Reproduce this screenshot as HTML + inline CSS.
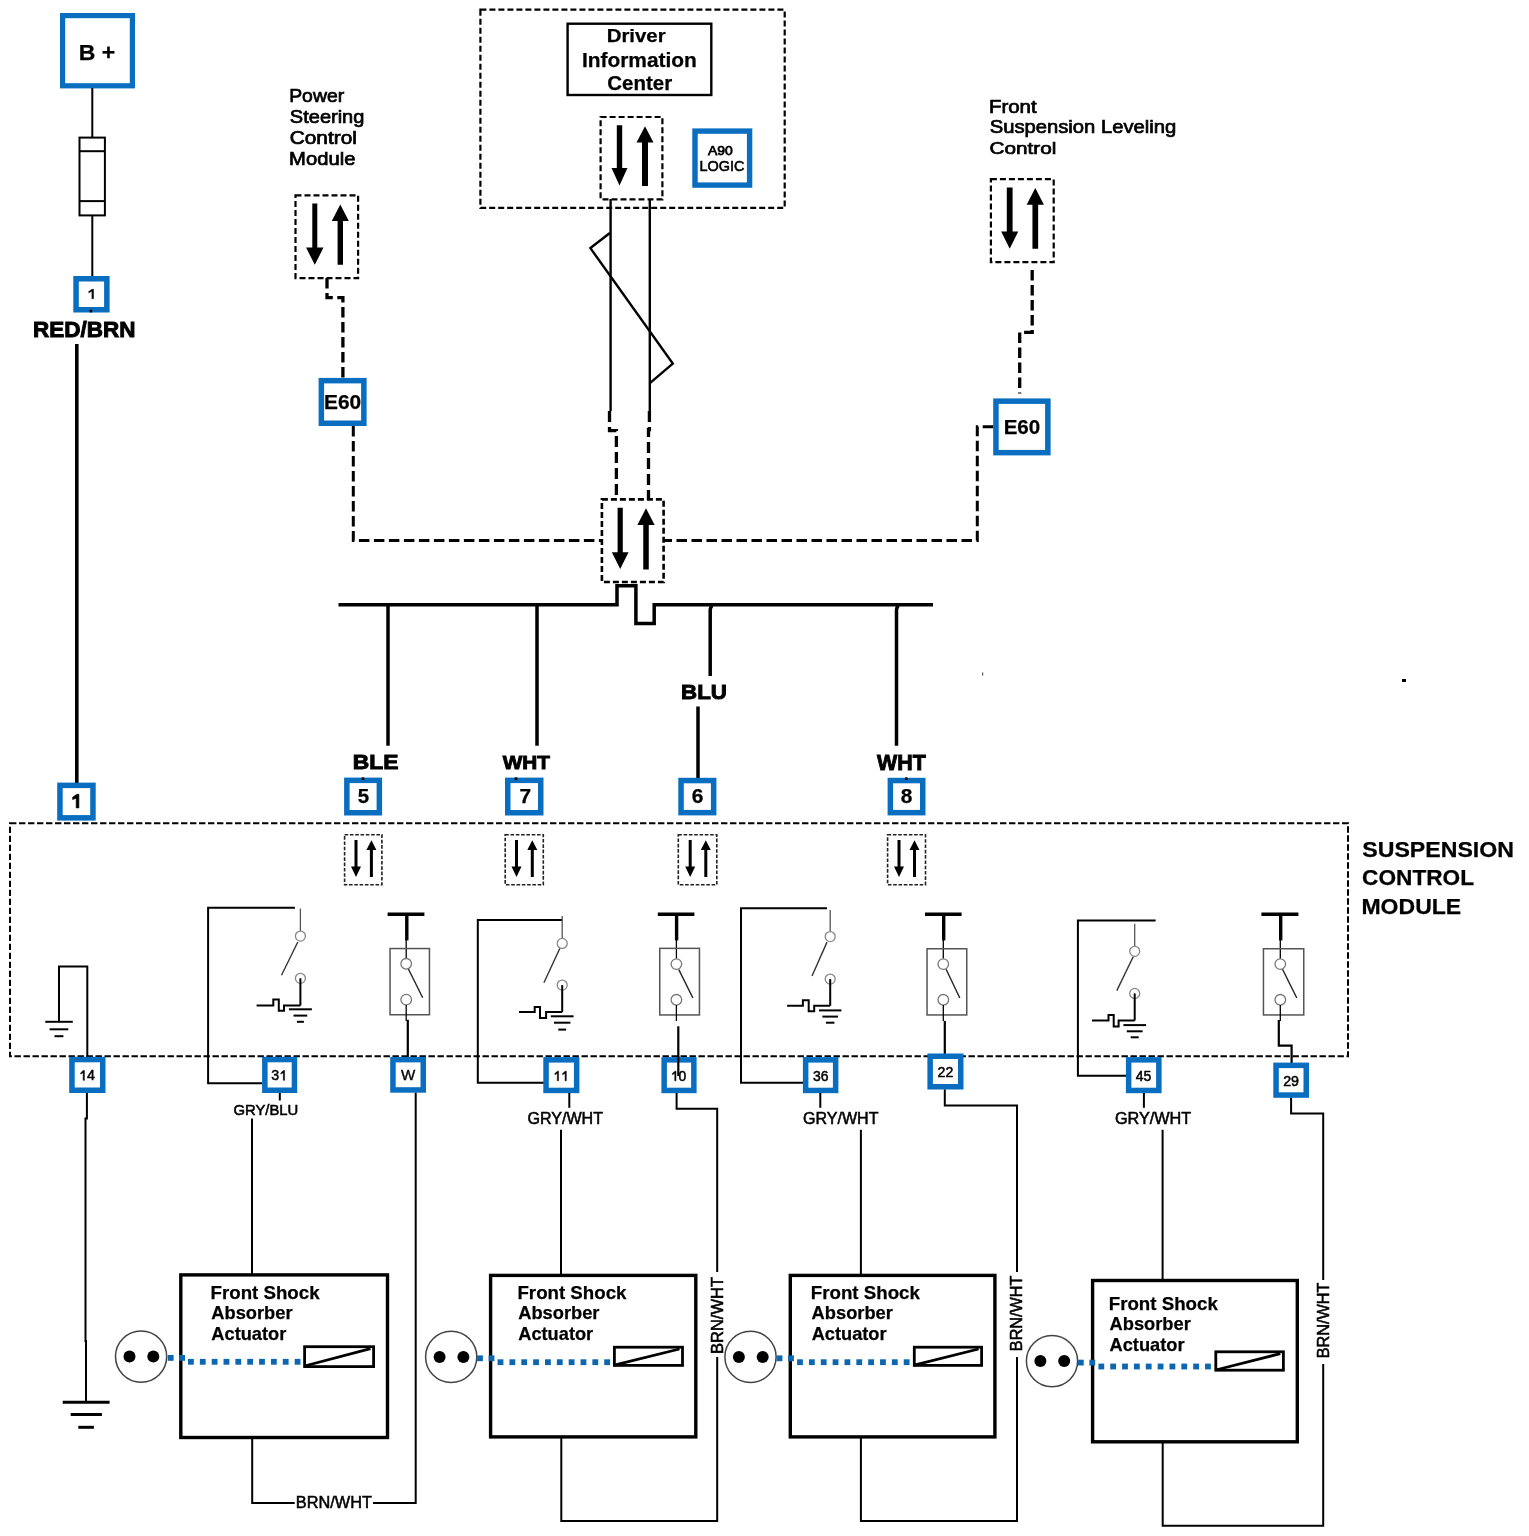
<!DOCTYPE html><html><head><meta charset="utf-8"><title>Suspension Control Module Wiring</title><style>html,body{margin:0;padding:0;background:#fff}svg{display:block;will-change:transform}text{font-family:"Liberation Sans",sans-serif}</style></head><body>
<svg width="1529" height="1536" viewBox="0 0 1529 1536">
<rect width="1529" height="1536" fill="#fff"/>
<rect x="62.6" y="15.6" width="69.8" height="70.2" fill="#fff" stroke="#096ec0" stroke-width="5.2"/>
<text x="78.76" y="59.6" font-size="21.95" font-weight="bold" textLength="36.47" lengthAdjust="spacingAndGlyphs" fill="#000" stroke="#000" stroke-width="0.25">B +</text>
<line x1="92.3" y1="88" x2="92.3" y2="137" stroke="#000" stroke-width="2"/>
<rect x="79.5" y="137.6" width="25.4" height="77.8" fill="none" stroke="#000" stroke-width="2"/>
<line x1="79" y1="151.2" x2="105.5" y2="151.2" stroke="#000" stroke-width="2"/>
<line x1="79" y1="201.1" x2="105.5" y2="201.1" stroke="#000" stroke-width="2"/>
<line x1="92.3" y1="216" x2="92.3" y2="277" stroke="#000" stroke-width="2"/>
<rect x="76.05" y="278.75" width="30.8" height="31" fill="#fff" stroke="#096ec0" stroke-width="5.5"/>
<path d="M93.5,289.3 L93.5,298.7 L91.9,298.7 L91.9,291.35 L88.7,292.73 L88.7,291.62 L92.05,289.3 Z" fill="#000" stroke="#000" stroke-width="0.45" stroke-linejoin="round"/>
<rect x="89.6" y="309.8" width="2.6" height="2.6" fill="#000"/>
<text x="33.1" y="336.6" font-size="21.22" font-weight="bold" textLength="102.42" lengthAdjust="spacingAndGlyphs" fill="#000" stroke="#000" stroke-width="0.9">RED/BRN</text>
<line x1="76.8" y1="344" x2="76.8" y2="783" stroke="#000" stroke-width="3.6"/>
<rect x="59.95" y="785.35" width="33" height="32.5" fill="#fff" stroke="#096ec0" stroke-width="5.5"/>
<path d="M78.9,794.3 L78.9,807.9 L76.19,807.9 L76.19,798.25 L72.6,799.55 L72.6,797.32 L76.77,794.3 Z" fill="#000" stroke="#000" stroke-width="0.6" stroke-linejoin="round"/>
<text x="289.21" y="102.2" font-size="17.73" font-weight="normal" textLength="54.91" lengthAdjust="spacingAndGlyphs" fill="#000" stroke="#000" stroke-width="0.7">Power</text>
<text x="289.89" y="123" font-size="17.73" font-weight="normal" textLength="74.5" lengthAdjust="spacingAndGlyphs" fill="#000" stroke="#000" stroke-width="0.7">Steering</text>
<text x="289.74" y="143.8" font-size="17.73" font-weight="normal" textLength="67.15" lengthAdjust="spacingAndGlyphs" fill="#000" stroke="#000" stroke-width="0.7">Control</text>
<text x="289.14" y="164.5" font-size="17.73" font-weight="normal" textLength="66.25" lengthAdjust="spacingAndGlyphs" fill="#000" stroke="#000" stroke-width="0.7">Module</text>
<rect x="295.5" y="195.3" width="62.6" height="82.8" fill="none" stroke="#000" stroke-width="2.2" stroke-dasharray="6 3"/>
<path d="M312.3,203.5 H317.3 V247.6 H323.55 L314.8,264.8 L306.05,247.6 H312.3 Z" fill="#000"/>
<path d="M337.6,264.8 H343 V221.1 H348.8 L340.3,204.4 L331.8,221.1 H337.6 Z" fill="#000"/>
<path d="M327,278 V297.7 H342.9 V378" fill="none" stroke="#000" stroke-width="3.3" stroke-dasharray="10.5 4.5"/>
<rect x="321.35" y="380.65" width="42.5" height="42.6" fill="#fff" stroke="#096ec0" stroke-width="5.5"/>
<text x="324" y="408.9" font-size="20.2" font-weight="bold" textLength="37.15" lengthAdjust="spacingAndGlyphs" fill="#000" stroke="#000" stroke-width="0.25">E60</text>
<path d="M353.3,426 V540.4 H601.5" fill="none" stroke="#000" stroke-width="3" stroke-dasharray="10.5 4.5"/>
<rect x="480.4" y="9.7" width="304.3" height="198.2" fill="none" stroke="#000" stroke-width="2.2" stroke-dasharray="6 3"/>
<rect x="567.6" y="23.7" width="143.7" height="71.3" fill="none" stroke="#000" stroke-width="2.4"/>
<text x="606.74" y="42.1" font-size="18.9" font-weight="bold" textLength="58.87" lengthAdjust="spacingAndGlyphs" fill="#000" stroke="#000" stroke-width="0.25">Driver</text>
<text x="581.92" y="66.9" font-size="20.35" font-weight="bold" textLength="114.93" lengthAdjust="spacingAndGlyphs" fill="#000" stroke="#000" stroke-width="0.25">Information</text>
<text x="607.26" y="89.6" font-size="19.77" font-weight="bold" textLength="64.85" lengthAdjust="spacingAndGlyphs" fill="#000" stroke="#000" stroke-width="0.25">Center</text>
<rect x="600.6" y="117" width="61.8" height="82.3" fill="none" stroke="#000" stroke-width="2.2" stroke-dasharray="6 3"/>
<path d="M616.8,125.2 H622.2 V168 H627.5 L619.5,185.6 L611.5,168 H616.8 Z" fill="#000"/>
<path d="M642,186 H648 V142.5 H653.5 L645,126.3 L636.5,142.5 H642 Z" fill="#000"/>
<rect x="695" y="131.1" width="54.6" height="54" fill="#fff" stroke="#096ec0" stroke-width="5.4"/>
<text x="707.97" y="154.8" font-size="13.37" font-weight="normal" textLength="24.77" lengthAdjust="spacingAndGlyphs" fill="#000" stroke="#000" stroke-width="0.75">A90</text>
<text x="699.42" y="171.4" font-size="14.24" font-weight="normal" textLength="44.93" lengthAdjust="spacingAndGlyphs" fill="#000" stroke="#000" stroke-width="0.55">LOGIC</text>
<line x1="610.6" y1="199" x2="610.6" y2="411" stroke="#000" stroke-width="2.4"/>
<line x1="649.8" y1="199" x2="649.8" y2="411" stroke="#000" stroke-width="2.4"/>
<path d="M609.9,233 L590.4,248.1 L672.8,363.6 L650.2,382.8" fill="none" stroke="#000" stroke-width="2.4" stroke-linejoin="miter"/>
<path d="M609.5,411 V430.6 H616.4 V499.4" fill="none" stroke="#000" stroke-width="3.3" stroke-dasharray="11 5"/>
<path d="M649.4,411 V429.7 H648.5 V499.4" fill="none" stroke="#000" stroke-width="3.3" stroke-dasharray="11 5"/>
<rect x="601.9" y="499.4" width="61.7" height="82.6" fill="none" stroke="#000" stroke-width="2.6" stroke-dasharray="6 3"/>
<path d="M617.6,507.7 H622.8 V552.2 H628.55 L620.2,569 L611.85,552.2 H617.6 Z" fill="#000"/>
<path d="M643.25,569.5 H648.75 V525 H654.65 L646,508.3 L637.35,525 H643.25 Z" fill="#000"/>
<text x="988.92" y="112.6" font-size="17.73" font-weight="normal" textLength="47.73" lengthAdjust="spacingAndGlyphs" fill="#000" stroke="#000" stroke-width="0.7">Front</text>
<text x="989.68" y="133.4" font-size="18.31" font-weight="normal" textLength="186.62" lengthAdjust="spacingAndGlyphs" fill="#000" stroke="#000" stroke-width="0.7">Suspension Leveling</text>
<text x="989.55" y="153.8" font-size="17.15" font-weight="normal" textLength="66.84" lengthAdjust="spacingAndGlyphs" fill="#000" stroke="#000" stroke-width="0.7">Control</text>
<rect x="990.9" y="179.2" width="62.8" height="82.9" fill="none" stroke="#000" stroke-width="2.2" stroke-dasharray="6 3"/>
<path d="M1006.8,187.5 H1012.6 V231.5 H1018.2 L1009.7,248.7 L1001.2,231.5 H1006.8 Z" fill="#000"/>
<path d="M1032.45,248.7 H1038.15 V204.8 H1043.95 L1035.3,188 L1026.65,204.8 H1032.45 Z" fill="#000"/>
<path d="M1032.2,270 V332.4 H1019.7 V393.5" fill="none" stroke="#000" stroke-width="3.3" stroke-dasharray="10.5 4.5"/>
<rect x="995.95" y="401.15" width="51.9" height="51.5" fill="#fff" stroke="#096ec0" stroke-width="5.5"/>
<text x="1003.63" y="433.5" font-size="20.78" font-weight="bold" textLength="36.51" lengthAdjust="spacingAndGlyphs" fill="#000" stroke="#000" stroke-width="0.25">E60</text>
<path d="M993.2,426.7 H977.3 V540.5 H663.6" fill="none" stroke="#000" stroke-width="3" stroke-dasharray="10.5 4.5"/>
<path d="M338.5,604.7 H617 V585.7 H635.9 V623.4 H654.2 V604.7 H933" fill="none" stroke="#000" stroke-width="3.5" stroke-linejoin="miter"/>
<line x1="388" y1="604.7" x2="388" y2="745.7" stroke="#000" stroke-width="3.5"/>
<line x1="537" y1="604.7" x2="537" y2="745.7" stroke="#000" stroke-width="3.5"/>
<path d="M710.2,675.9 V610 Q710.5,606.5 712.6,605.5" fill="none" stroke="#000" stroke-width="3.5"/>
<path d="M896.5,745.8 V610 Q896.8,606.5 898.9,605.5" fill="none" stroke="#000" stroke-width="3.5"/>
<line x1="698" y1="706.5" x2="698" y2="778.5" stroke="#000" stroke-width="3.5"/>
<text x="352.77" y="769.2" font-size="19.33" font-weight="bold" textLength="45.62" lengthAdjust="spacingAndGlyphs" fill="#000" stroke="#000" stroke-width="0.9">BLE</text>
<text x="502.68" y="769.2" font-size="19.19" font-weight="bold" textLength="47.24" lengthAdjust="spacingAndGlyphs" fill="#000" stroke="#000" stroke-width="0.9">WHT</text>
<text x="681.11" y="698.8" font-size="20.93" font-weight="bold" textLength="45.85" lengthAdjust="spacingAndGlyphs" fill="#000" stroke="#000" stroke-width="0.9">BLU</text>
<text x="876.98" y="769.6" font-size="21.22" font-weight="bold" textLength="48.75" lengthAdjust="spacingAndGlyphs" fill="#000" stroke="#000" stroke-width="0.9">WHT</text>
<rect x="346.85" y="780.35" width="32.5" height="32.4" fill="#fff" stroke="#096ec0" stroke-width="5.5"/>
<text x="357.67" y="803" font-size="19.91" font-weight="bold" textLength="11.4" lengthAdjust="spacingAndGlyphs" fill="#000" stroke="#000" stroke-width="0.25">5</text>
<rect x="507.75" y="780.35" width="33" height="32.4" fill="#fff" stroke="#096ec0" stroke-width="5.5"/>
<text x="519.6" y="803" font-size="19.91" font-weight="bold" textLength="11.63" lengthAdjust="spacingAndGlyphs" fill="#000" stroke="#000" stroke-width="0.25">7</text>
<rect x="681.05" y="780.55" width="32.6" height="32.1" fill="#fff" stroke="#096ec0" stroke-width="5.5"/>
<text x="691.68" y="803" font-size="19.91" font-weight="bold" textLength="11.63" lengthAdjust="spacingAndGlyphs" fill="#000" stroke="#000" stroke-width="0.25">6</text>
<rect x="890.35" y="780.55" width="32.4" height="32.1" fill="#fff" stroke="#096ec0" stroke-width="5.5"/>
<text x="900.68" y="803" font-size="19.91" font-weight="bold" textLength="11.63" lengthAdjust="spacingAndGlyphs" fill="#000" stroke="#000" stroke-width="0.25">8</text>
<rect x="361.7" y="777.4" width="2.6" height="2.6" fill="#000"/>
<rect x="514.7" y="777.4" width="2.6" height="2.6" fill="#000"/>
<rect x="905" y="777.4" width="2.6" height="2.6" fill="#000"/>
<rect x="982" y="672.5" width="1.2" height="3" fill="#555"/>
<rect x="1402" y="679" width="4" height="3" fill="#000"/>
<rect x="10" y="823.3" width="1338" height="232.9" fill="none" stroke="#000" stroke-width="2" stroke-dasharray="6.4 2.6"/>
<text x="1362.33" y="856.6" font-size="21.22" font-weight="bold" textLength="151.62" lengthAdjust="spacingAndGlyphs" fill="#000" stroke="#000" stroke-width="0.25">SUSPENSION</text>
<text x="1362.07" y="885" font-size="21.37" font-weight="bold" textLength="111.98" lengthAdjust="spacingAndGlyphs" fill="#000" stroke="#000" stroke-width="0.25">CONTROL</text>
<text x="1361.46" y="913.8" font-size="22.09" font-weight="bold" textLength="99.71" lengthAdjust="spacingAndGlyphs" fill="#000" stroke="#000" stroke-width="0.25">MODULE</text>
<rect x="344.6" y="834.7" width="37.3" height="50" fill="none" stroke="#222" stroke-width="1.6" stroke-dasharray="3.6 1.7"/>
<path d="M354.5,840 H357.5 V866.6 H361 L356,876.9 L351,866.6 H354.5 Z" fill="#000"/>
<path d="M369.9,876.9 H372.9 V850 H376.4 L371.4,840.3 L366.4,850 H369.9 Z" fill="#000"/>
<rect x="505.2" y="834.7" width="38.1" height="50" fill="none" stroke="#222" stroke-width="1.6" stroke-dasharray="3.6 1.7"/>
<path d="M515,840 H518 V866.6 H521.5 L516.5,876.9 L511.5,866.6 H515 Z" fill="#000"/>
<path d="M530.8,876.9 H533.8 V850 H537.3 L532.3,840.3 L527.3,850 H530.8 Z" fill="#000"/>
<rect x="678.3" y="834.7" width="38.5" height="50" fill="none" stroke="#222" stroke-width="1.6" stroke-dasharray="3.6 1.7"/>
<path d="M688.7,840 H691.7 V866.6 H695.2 L690.2,876.9 L685.2,866.6 H688.7 Z" fill="#000"/>
<path d="M704.3,876.9 H707.3 V850 H710.8 L705.8,840.3 L700.8,850 H704.3 Z" fill="#000"/>
<rect x="887.6" y="834.7" width="37.9" height="50" fill="none" stroke="#222" stroke-width="1.6" stroke-dasharray="3.6 1.7"/>
<path d="M897.5,840 H900.5 V866.6 H904 L899,876.9 L894,866.6 H897.5 Z" fill="#000"/>
<path d="M913,876.9 H916 V850 H919.5 L914.5,840.3 L909.5,850 H913 Z" fill="#000"/>
<path d="M59,1021.5 V966.5 H87.3 V1058" fill="none" stroke="#000" stroke-width="2"/>
<line x1="45.3" y1="1021.8" x2="72.8" y2="1021.8" stroke="#000" stroke-width="2"/>
<line x1="49.6" y1="1029.3" x2="68.3" y2="1029.3" stroke="#000" stroke-width="2"/>
<line x1="54.5" y1="1036.2" x2="63.4" y2="1036.2" stroke="#000" stroke-width="2"/>
<path d="M294.9,907.7 H208.1 V1083.2 H262.5" fill="none" stroke="#000" stroke-width="2"/>
<line x1="300.4" y1="908.6" x2="300.4" y2="931.1" stroke="#555" stroke-width="1.3"/>
<circle cx="300.4" cy="936.1" r="5" fill="#fff" stroke="#888" stroke-width="1.3"/>
<circle cx="300.4" cy="978.3" r="5" fill="#fff" stroke="#888" stroke-width="1.3"/>
<line x1="297.8" y1="942" x2="281.5" y2="975.3" stroke="#333" stroke-width="1.4"/>
<line x1="300.4" y1="978.3" x2="300.4" y2="1005.4" stroke="#000" stroke-width="2"/>
<path d="M256.6,1005.4 H273.3 V999.5 H278.8 V1010.7 H284 V1005.4 H300.4" fill="none" stroke="#000" stroke-width="2"/>
<line x1="288.9" y1="1009.3" x2="311.9" y2="1009.3" stroke="#000" stroke-width="2"/>
<line x1="293.5" y1="1015.6" x2="307.3" y2="1015.6" stroke="#000" stroke-width="2"/>
<line x1="296.9" y1="1021.8" x2="303.9" y2="1021.8" stroke="#000" stroke-width="2"/>
<path d="M562.2,920.1 H477.8 V1082.7 H545.2" fill="none" stroke="#000" stroke-width="2"/>
<line x1="562.2" y1="916" x2="562.2" y2="938.4" stroke="#555" stroke-width="1.3"/>
<circle cx="562.2" cy="943.4" r="5" fill="#fff" stroke="#888" stroke-width="1.3"/>
<circle cx="562.2" cy="985.1" r="5" fill="#fff" stroke="#888" stroke-width="1.3"/>
<line x1="559.8" y1="948.5" x2="543.9" y2="982.8" stroke="#333" stroke-width="1.4"/>
<line x1="562.2" y1="985.1" x2="562.2" y2="1012.1" stroke="#000" stroke-width="2"/>
<path d="M519,1012.1 H534.7 V1007.1 H540 V1018.1 H546.1 V1012.1 H562.2" fill="none" stroke="#000" stroke-width="2"/>
<line x1="550.8" y1="1016.3" x2="573.6" y2="1016.3" stroke="#000" stroke-width="2"/>
<line x1="554" y1="1022.7" x2="570.4" y2="1022.7" stroke="#000" stroke-width="2"/>
<line x1="558.3" y1="1029.6" x2="566.1" y2="1029.6" stroke="#000" stroke-width="2"/>
<path d="M827,908.2 H741 V1082.7 H803.2" fill="none" stroke="#000" stroke-width="2"/>
<line x1="830.2" y1="910" x2="830.2" y2="931.6" stroke="#555" stroke-width="1.3"/>
<circle cx="830.2" cy="936.6" r="5" fill="#fff" stroke="#888" stroke-width="1.3"/>
<circle cx="830.2" cy="979.1" r="5" fill="#fff" stroke="#888" stroke-width="1.3"/>
<line x1="827" y1="942.1" x2="812" y2="976" stroke="#333" stroke-width="1.4"/>
<line x1="830.2" y1="979.1" x2="830.2" y2="1005.8" stroke="#000" stroke-width="2"/>
<path d="M787.1,1005.8 H802.9 V1000.3 H808.7 V1011.3 H814.2 V1005.8 H830.2" fill="none" stroke="#000" stroke-width="2"/>
<line x1="819" y1="1010.4" x2="841.4" y2="1010.4" stroke="#000" stroke-width="2"/>
<line x1="822.4" y1="1016.6" x2="838" y2="1016.6" stroke="#000" stroke-width="2"/>
<line x1="826" y1="1022.7" x2="834.4" y2="1022.7" stroke="#000" stroke-width="2"/>
<path d="M1155.6,920.5 H1077.9 V1075.8 H1126.8" fill="none" stroke="#000" stroke-width="2"/>
<line x1="1134.7" y1="923.8" x2="1134.7" y2="946.3" stroke="#555" stroke-width="1.3"/>
<circle cx="1134.7" cy="951.3" r="5" fill="#fff" stroke="#888" stroke-width="1.3"/>
<circle cx="1134.7" cy="993.4" r="5" fill="#fff" stroke="#888" stroke-width="1.3"/>
<line x1="1133.2" y1="956.8" x2="1116.8" y2="990.6" stroke="#333" stroke-width="1.4"/>
<line x1="1134.7" y1="993.4" x2="1134.7" y2="1020.5" stroke="#000" stroke-width="2"/>
<path d="M1092,1020.5 H1108.5 V1015 H1113.7 V1026.4 H1118.6 V1020.5 H1134.7" fill="none" stroke="#000" stroke-width="2"/>
<line x1="1123.4" y1="1025.1" x2="1146" y2="1025.1" stroke="#000" stroke-width="2"/>
<line x1="1126.8" y1="1031.3" x2="1142.6" y2="1031.3" stroke="#000" stroke-width="2"/>
<line x1="1130.7" y1="1037.3" x2="1138.7" y2="1037.3" stroke="#000" stroke-width="2"/>
<line x1="387.6" y1="914.3" x2="424.4" y2="914.3" stroke="#000" stroke-width="3.4"/>
<line x1="406.8" y1="914.3" x2="406.8" y2="940.4" stroke="#000" stroke-width="3.4"/>
<line x1="406.2" y1="940" x2="406.2" y2="958.5" stroke="#000" stroke-width="1.3"/>
<rect x="390.05" y="948.55" width="39.4" height="66.2" fill="none" stroke="#555" stroke-width="1.5"/>
<circle cx="406.2" cy="963.8" r="5.3" fill="#fff" stroke="#777" stroke-width="1.3"/>
<circle cx="406.2" cy="999.6" r="5.3" fill="#fff" stroke="#777" stroke-width="1.3"/>
<line x1="408.4" y1="969" x2="422.7" y2="997.7" stroke="#222" stroke-width="1.4"/>
<line x1="406.2" y1="1004.9" x2="406.2" y2="1021" stroke="#000" stroke-width="1.3"/>
<path d="M407.8,1019.8 V1058" fill="none" stroke="#000" stroke-width="2.2"/>
<line x1="657.8" y1="914.3" x2="694.4" y2="914.3" stroke="#000" stroke-width="3.4"/>
<line x1="676.6" y1="914.3" x2="676.6" y2="940.4" stroke="#000" stroke-width="3.4"/>
<line x1="676.4" y1="940" x2="676.4" y2="958.8" stroke="#000" stroke-width="1.3"/>
<rect x="659.75" y="948.35" width="39.7" height="66.6" fill="none" stroke="#555" stroke-width="1.5"/>
<circle cx="676.4" cy="964.1" r="5.3" fill="#fff" stroke="#777" stroke-width="1.3"/>
<circle cx="676.4" cy="999.8" r="5.3" fill="#fff" stroke="#777" stroke-width="1.3"/>
<line x1="678.8" y1="969.6" x2="692.9" y2="998" stroke="#222" stroke-width="1.4"/>
<line x1="676.4" y1="1005.1" x2="676.4" y2="1021" stroke="#000" stroke-width="1.3"/>
<path d="M678.3,1026.3 V1058" fill="none" stroke="#000" stroke-width="2.2"/>
<line x1="925" y1="914.3" x2="961.6" y2="914.3" stroke="#000" stroke-width="3.4"/>
<line x1="943.7" y1="914.3" x2="943.7" y2="940.4" stroke="#000" stroke-width="3.4"/>
<line x1="943.3" y1="940" x2="943.3" y2="958.8" stroke="#000" stroke-width="1.3"/>
<rect x="927.05" y="948.75" width="39.7" height="66.2" fill="none" stroke="#555" stroke-width="1.5"/>
<circle cx="943.3" cy="964.1" r="5.3" fill="#fff" stroke="#777" stroke-width="1.3"/>
<circle cx="943.3" cy="999.8" r="5.3" fill="#fff" stroke="#777" stroke-width="1.3"/>
<line x1="946.1" y1="969.2" x2="959.8" y2="998" stroke="#222" stroke-width="1.4"/>
<line x1="943.3" y1="1005.1" x2="943.3" y2="1021" stroke="#000" stroke-width="1.3"/>
<path d="M944.8,1020.9 V1054" fill="none" stroke="#000" stroke-width="2.2"/>
<line x1="1261.4" y1="914.3" x2="1298.4" y2="914.3" stroke="#000" stroke-width="3.4"/>
<line x1="1280.7" y1="914.3" x2="1280.7" y2="940.4" stroke="#000" stroke-width="3.4"/>
<line x1="1280.3" y1="940" x2="1280.3" y2="958.8" stroke="#000" stroke-width="1.3"/>
<rect x="1263.45" y="948.75" width="40.3" height="66.2" fill="none" stroke="#555" stroke-width="1.5"/>
<circle cx="1280.3" cy="964.1" r="5.3" fill="#fff" stroke="#777" stroke-width="1.3"/>
<circle cx="1280.3" cy="999.8" r="5.3" fill="#fff" stroke="#777" stroke-width="1.3"/>
<line x1="1282.5" y1="969.2" x2="1296.8" y2="998" stroke="#222" stroke-width="1.4"/>
<line x1="1280.3" y1="1005.1" x2="1280.3" y2="1021" stroke="#000" stroke-width="1.3"/>
<path d="M1278.8,1019.9 V1045.6 H1291.6 V1063" fill="none" stroke="#000" stroke-width="2.2"/>
<rect x="71.95" y="1059.55" width="30.8" height="30.7" fill="#fff" stroke="#096ec0" stroke-width="5.5"/>
<path d="M84.4,1070.5 L84.4,1080.3 L83.15,1080.3 L83.15,1072.63 L80.65,1074.08 L80.65,1072.92 L83.27,1070.5 Z" fill="#000" stroke="#000" stroke-width="0.5" stroke-linejoin="round"/>
<text x="87.02" y="1080.3" font-size="14.24" font-weight="normal" textLength="7.92" lengthAdjust="spacingAndGlyphs" fill="#000" stroke="#000" stroke-width="0.5">4</text>
<rect x="264.85" y="1059.55" width="29.6" height="30.7" fill="#fff" stroke="#096ec0" stroke-width="5.5"/>
<text x="271.35" y="1080.3" font-size="14.24" font-weight="normal" textLength="7.92" lengthAdjust="spacingAndGlyphs" fill="#000" stroke="#000" stroke-width="0.5">3</text>
<path d="M284.58,1070.5 L284.58,1080.3 L283.33,1080.3 L283.33,1072.63 L280.83,1074.08 L280.83,1072.92 L283.45,1070.5 Z" fill="#000" stroke="#000" stroke-width="0.5" stroke-linejoin="round"/>
<rect x="392.95" y="1059.65" width="30.3" height="30.3" fill="#fff" stroke="#096ec0" stroke-width="5.5"/>
<text x="400.96" y="1080.3" font-size="15.12" font-weight="normal" textLength="14.27" lengthAdjust="spacingAndGlyphs" fill="#000" stroke="#000" stroke-width="0.35">W</text>
<rect x="546.05" y="1059.85" width="30.6" height="30.6" fill="#fff" stroke="#096ec0" stroke-width="5.5"/>
<path d="M558.55,1071.2 L558.55,1080.8 L557.32,1080.8 L557.32,1073.29 L554.87,1074.7 L554.87,1073.57 L557.44,1071.2 Z" fill="#000" stroke="#000" stroke-width="0.5" stroke-linejoin="round"/>
<path d="M566.31,1071.2 L566.31,1080.8 L565.08,1080.8 L565.08,1073.29 L562.63,1074.7 L562.63,1073.57 L565.2,1071.2 Z" fill="#000" stroke="#000" stroke-width="0.5" stroke-linejoin="round"/>
<rect x="664.15" y="1059.85" width="29.7" height="30.6" fill="#fff" stroke="#096ec0" stroke-width="5.5"/>
<rect x="805.65" y="1059.85" width="30" height="30.6" fill="#fff" stroke="#096ec0" stroke-width="5.5"/>
<text x="812.88" y="1080.8" font-size="13.95" font-weight="normal" textLength="15.52" lengthAdjust="spacingAndGlyphs" fill="#000" stroke="#000" stroke-width="0.5">36</text>
<rect x="930.15" y="1056.25" width="30.6" height="30.5" fill="#fff" stroke="#096ec0" stroke-width="5.5"/>
<text x="937.61" y="1077.2" font-size="14.1" font-weight="normal" textLength="15.68" lengthAdjust="spacingAndGlyphs" fill="#000" stroke="#000" stroke-width="0.5">22</text>
<rect x="1128.65" y="1059.85" width="30.2" height="30.6" fill="#fff" stroke="#096ec0" stroke-width="5.5"/>
<text x="1135.67" y="1080.8" font-size="13.95" font-weight="normal" textLength="15.52" lengthAdjust="spacingAndGlyphs" fill="#000" stroke="#000" stroke-width="0.5">45</text>
<rect x="1276.05" y="1065.35" width="30.2" height="29.7" fill="#fff" stroke="#096ec0" stroke-width="5.5"/>
<text x="1283.16" y="1085.8" font-size="14.24" font-weight="normal" textLength="15.84" lengthAdjust="spacingAndGlyphs" fill="#000" stroke="#000" stroke-width="0.5">29</text>
<line x1="678.3" y1="1056" x2="678.3" y2="1076" stroke="#000" stroke-width="2.2"/>
<path d="M675.98,1071.2 L675.98,1080.8 L674.75,1080.8 L674.75,1073.29 L672.3,1074.7 L672.3,1073.57 L674.87,1071.2 Z" fill="#000" stroke="#000" stroke-width="0.5" stroke-linejoin="round"/>
<text x="678.54" y="1080.8" font-size="13.95" font-weight="normal" textLength="7.76" lengthAdjust="spacingAndGlyphs" fill="#000" stroke="#000" stroke-width="0.5">0</text>
<path d="M86.9,1093 V1118.6 H85.5 V1341 H86 V1402" fill="none" stroke="#000" stroke-width="2"/>
<line x1="62.7" y1="1402.3" x2="109.6" y2="1402.3" stroke="#000" stroke-width="3"/>
<line x1="70.7" y1="1414.5" x2="101.9" y2="1414.5" stroke="#000" stroke-width="3"/>
<line x1="78.3" y1="1427.3" x2="93.9" y2="1427.3" stroke="#000" stroke-width="3"/>
<line x1="279.8" y1="1093" x2="279.8" y2="1100.5" stroke="#000" stroke-width="2"/>
<text x="233.46" y="1114.6" font-size="14.83" font-weight="normal" textLength="64.88" lengthAdjust="spacingAndGlyphs" fill="#000" stroke="#000" stroke-width="0.55">GRY/BLU</text>
<line x1="252" y1="1118.6" x2="252" y2="1274" stroke="#000" stroke-width="2"/>
<line x1="569.3" y1="1093" x2="569.3" y2="1107.8" stroke="#000" stroke-width="2"/>
<text x="527.39" y="1123.9" font-size="16.72" font-weight="normal" textLength="75.67" lengthAdjust="spacingAndGlyphs" fill="#000" stroke="#000" stroke-width="0.55">GRY/WHT</text>
<line x1="561" y1="1129.8" x2="561" y2="1274" stroke="#000" stroke-width="2"/>
<line x1="820.3" y1="1093" x2="820.3" y2="1107.8" stroke="#000" stroke-width="2"/>
<text x="803" y="1123.9" font-size="16.72" font-weight="normal" textLength="75.47" lengthAdjust="spacingAndGlyphs" fill="#000" stroke="#000" stroke-width="0.55">GRY/WHT</text>
<line x1="860.9" y1="1129.8" x2="860.9" y2="1274" stroke="#000" stroke-width="2"/>
<line x1="1143.9" y1="1093" x2="1143.9" y2="1107.8" stroke="#000" stroke-width="2"/>
<text x="1114.89" y="1123.9" font-size="16.72" font-weight="normal" textLength="76.38" lengthAdjust="spacingAndGlyphs" fill="#000" stroke="#000" stroke-width="0.55">GRY/WHT</text>
<line x1="1162.6" y1="1129.8" x2="1162.6" y2="1279" stroke="#000" stroke-width="2"/>
<path d="M415.7,1092.7 V1502.9 H373" fill="none" stroke="#000" stroke-width="2"/>
<path d="M294.7,1502.9 H252.2 V1438" fill="none" stroke="#000" stroke-width="2"/>
<text x="295.86" y="1508.3" font-size="16.86" font-weight="normal" textLength="76.01" lengthAdjust="spacingAndGlyphs" fill="#000" stroke="#000" stroke-width="0.55">BRN/WHT</text>
<path d="M676.6,1093 V1108.8 H717.2 V1272" fill="none" stroke="#000" stroke-width="2"/>
<path d="M717.2,1357 V1521 H561.3 V1438" fill="none" stroke="#000" stroke-width="2"/>
<path d="M944.8,1089.5 V1105.5 H1017 V1272" fill="none" stroke="#000" stroke-width="2"/>
<path d="M1017,1357 V1521 H860.9 V1438" fill="none" stroke="#000" stroke-width="2"/>
<path d="M1291.1,1097.8 V1113.4 H1323.2 V1280" fill="none" stroke="#000" stroke-width="2"/>
<path d="M1323.2,1364 V1525.8 H1162.7 V1443" fill="none" stroke="#000" stroke-width="2"/>
<text transform="translate(722.75,1353.95) rotate(-90)" x="0" y="0" font-size="16.42" textLength="76.93" lengthAdjust="spacingAndGlyphs" fill="#000" stroke="#000" stroke-width="0.55">BRN/WHT</text>
<text transform="translate(1021.85,1351.13) rotate(-90)" x="0" y="0" font-size="16.42" textLength="75.5" lengthAdjust="spacingAndGlyphs" fill="#000" stroke="#000" stroke-width="0.55">BRN/WHT</text>
<text transform="translate(1329.25,1358.23) rotate(-90)" x="0" y="0" font-size="16.42" textLength="75.6" lengthAdjust="spacingAndGlyphs" fill="#000" stroke="#000" stroke-width="0.55">BRN/WHT</text>
<rect x="180.8" y="1274.9" width="206.7" height="162.6" fill="none" stroke="#000" stroke-width="3.4"/>
<text x="210.55" y="1298.7" font-size="18.46" font-weight="bold" textLength="109.03" lengthAdjust="spacingAndGlyphs" fill="#000" stroke="#000" stroke-width="0.25">Front Shock</text>
<text x="211.34" y="1319.2" font-size="18.17" font-weight="bold" textLength="81.23" lengthAdjust="spacingAndGlyphs" fill="#000" stroke="#000" stroke-width="0.25">Absorber</text>
<text x="211.35" y="1340.2" font-size="18.17" font-weight="bold" textLength="74.93" lengthAdjust="spacingAndGlyphs" fill="#000" stroke="#000" stroke-width="0.25">Actuator</text>
<circle cx="141.1" cy="1356.6" r="25.6" fill="#fff" stroke="#444" stroke-width="1.5"/>
<circle cx="129.5" cy="1356.6" r="6" fill="#000"/>
<circle cx="153.3" cy="1356.6" r="6" fill="#000"/>
<rect x="167.8" y="1355" width="5.8" height="5.8" fill="#0c66b0"/>
<rect x="179.2" y="1355" width="5.8" height="5.8" fill="#0c66b0"/>
<rect x="188" y="1358.9" width="5.8" height="5.8" fill="#0c66b0"/>
<rect x="199.85" y="1358.9" width="5.8" height="5.8" fill="#0c66b0"/>
<rect x="211.7" y="1358.9" width="5.8" height="5.8" fill="#0c66b0"/>
<rect x="223.55" y="1358.9" width="5.8" height="5.8" fill="#0c66b0"/>
<rect x="235.4" y="1358.9" width="5.8" height="5.8" fill="#0c66b0"/>
<rect x="247.25" y="1358.9" width="5.8" height="5.8" fill="#0c66b0"/>
<rect x="259.1" y="1358.9" width="5.8" height="5.8" fill="#0c66b0"/>
<rect x="270.95" y="1358.9" width="5.8" height="5.8" fill="#0c66b0"/>
<rect x="282.8" y="1358.9" width="5.8" height="5.8" fill="#0c66b0"/>
<rect x="294.65" y="1358.9" width="5.8" height="5.8" fill="#0c66b0"/>
<rect x="304.6" y="1346.7" width="69" height="19.9" fill="none" stroke="#000" stroke-width="2.8"/>
<line x1="304.5" y1="1366" x2="370.5" y2="1348.6" stroke="#000" stroke-width="2.8"/>
<rect x="490.6" y="1275.4" width="205.2" height="161.5" fill="none" stroke="#000" stroke-width="3.4"/>
<text x="517.45" y="1298.7" font-size="18.46" font-weight="bold" textLength="109.03" lengthAdjust="spacingAndGlyphs" fill="#000" stroke="#000" stroke-width="0.25">Front Shock</text>
<text x="518.24" y="1319.2" font-size="18.17" font-weight="bold" textLength="81.23" lengthAdjust="spacingAndGlyphs" fill="#000" stroke="#000" stroke-width="0.25">Absorber</text>
<text x="518.25" y="1340.2" font-size="18.17" font-weight="bold" textLength="74.93" lengthAdjust="spacingAndGlyphs" fill="#000" stroke="#000" stroke-width="0.25">Actuator</text>
<circle cx="451.2" cy="1356.9" r="25.6" fill="#fff" stroke="#444" stroke-width="1.5"/>
<circle cx="439.6" cy="1356.9" r="6" fill="#000"/>
<circle cx="463.4" cy="1356.9" r="6" fill="#000"/>
<rect x="477.1" y="1355.4" width="5.8" height="5.8" fill="#0c66b0"/>
<rect x="488.6" y="1355.4" width="5.8" height="5.8" fill="#0c66b0"/>
<rect x="497.6" y="1359.3" width="5.8" height="5.8" fill="#0c66b0"/>
<rect x="509.45" y="1359.3" width="5.8" height="5.8" fill="#0c66b0"/>
<rect x="521.3" y="1359.3" width="5.8" height="5.8" fill="#0c66b0"/>
<rect x="533.15" y="1359.3" width="5.8" height="5.8" fill="#0c66b0"/>
<rect x="545" y="1359.3" width="5.8" height="5.8" fill="#0c66b0"/>
<rect x="556.85" y="1359.3" width="5.8" height="5.8" fill="#0c66b0"/>
<rect x="568.7" y="1359.3" width="5.8" height="5.8" fill="#0c66b0"/>
<rect x="580.55" y="1359.3" width="5.8" height="5.8" fill="#0c66b0"/>
<rect x="592.4" y="1359.3" width="5.8" height="5.8" fill="#0c66b0"/>
<rect x="604.25" y="1359.3" width="5.8" height="5.8" fill="#0c66b0"/>
<rect x="614.4" y="1347.2" width="68.1" height="18.2" fill="none" stroke="#000" stroke-width="2.8"/>
<line x1="614.3" y1="1365.2" x2="679.5" y2="1349" stroke="#000" stroke-width="2.8"/>
<rect x="790.3" y="1275.4" width="204.6" height="161.5" fill="none" stroke="#000" stroke-width="3.4"/>
<text x="810.85" y="1298.7" font-size="18.46" font-weight="bold" textLength="109.03" lengthAdjust="spacingAndGlyphs" fill="#000" stroke="#000" stroke-width="0.25">Front Shock</text>
<text x="811.64" y="1319.2" font-size="18.17" font-weight="bold" textLength="81.23" lengthAdjust="spacingAndGlyphs" fill="#000" stroke="#000" stroke-width="0.25">Absorber</text>
<text x="811.65" y="1340.2" font-size="18.17" font-weight="bold" textLength="74.93" lengthAdjust="spacingAndGlyphs" fill="#000" stroke="#000" stroke-width="0.25">Actuator</text>
<circle cx="750.5" cy="1356.9" r="25.6" fill="#fff" stroke="#444" stroke-width="1.5"/>
<circle cx="738.9" cy="1356.9" r="6" fill="#000"/>
<circle cx="762.7" cy="1356.9" r="6" fill="#000"/>
<rect x="776.6" y="1355.4" width="5.8" height="5.8" fill="#0c66b0"/>
<rect x="788.1" y="1355.4" width="5.8" height="5.8" fill="#0c66b0"/>
<rect x="797.1" y="1359.3" width="5.8" height="5.8" fill="#0c66b0"/>
<rect x="808.95" y="1359.3" width="5.8" height="5.8" fill="#0c66b0"/>
<rect x="820.8" y="1359.3" width="5.8" height="5.8" fill="#0c66b0"/>
<rect x="832.65" y="1359.3" width="5.8" height="5.8" fill="#0c66b0"/>
<rect x="844.5" y="1359.3" width="5.8" height="5.8" fill="#0c66b0"/>
<rect x="856.35" y="1359.3" width="5.8" height="5.8" fill="#0c66b0"/>
<rect x="868.2" y="1359.3" width="5.8" height="5.8" fill="#0c66b0"/>
<rect x="880.05" y="1359.3" width="5.8" height="5.8" fill="#0c66b0"/>
<rect x="891.9" y="1359.3" width="5.8" height="5.8" fill="#0c66b0"/>
<rect x="903.75" y="1359.3" width="5.8" height="5.8" fill="#0c66b0"/>
<rect x="914.3" y="1347.2" width="67.3" height="18.2" fill="none" stroke="#000" stroke-width="2.8"/>
<line x1="914.2" y1="1365.2" x2="978.6" y2="1349" stroke="#000" stroke-width="2.8"/>
<rect x="1092.6" y="1280.5" width="204.7" height="161.3" fill="none" stroke="#000" stroke-width="3.4"/>
<text x="1108.75" y="1309.5" font-size="18.46" font-weight="bold" textLength="109.03" lengthAdjust="spacingAndGlyphs" fill="#000" stroke="#000" stroke-width="0.25">Front Shock</text>
<text x="1109.54" y="1330" font-size="18.17" font-weight="bold" textLength="81.23" lengthAdjust="spacingAndGlyphs" fill="#000" stroke="#000" stroke-width="0.25">Absorber</text>
<text x="1109.55" y="1351.2" font-size="18.17" font-weight="bold" textLength="74.93" lengthAdjust="spacingAndGlyphs" fill="#000" stroke="#000" stroke-width="0.25">Actuator</text>
<circle cx="1052" cy="1361.1" r="25.6" fill="#fff" stroke="#444" stroke-width="1.5"/>
<circle cx="1040.4" cy="1361.1" r="6" fill="#000"/>
<circle cx="1064.2" cy="1361.1" r="6" fill="#000"/>
<rect x="1077.9" y="1359.7" width="5.8" height="5.8" fill="#0c66b0"/>
<rect x="1089.4" y="1359.7" width="5.8" height="5.8" fill="#0c66b0"/>
<rect x="1098.4" y="1363.6" width="5.8" height="5.8" fill="#0c66b0"/>
<rect x="1110.25" y="1363.6" width="5.8" height="5.8" fill="#0c66b0"/>
<rect x="1122.1" y="1363.6" width="5.8" height="5.8" fill="#0c66b0"/>
<rect x="1133.95" y="1363.6" width="5.8" height="5.8" fill="#0c66b0"/>
<rect x="1145.8" y="1363.6" width="5.8" height="5.8" fill="#0c66b0"/>
<rect x="1157.65" y="1363.6" width="5.8" height="5.8" fill="#0c66b0"/>
<rect x="1169.5" y="1363.6" width="5.8" height="5.8" fill="#0c66b0"/>
<rect x="1181.35" y="1363.6" width="5.8" height="5.8" fill="#0c66b0"/>
<rect x="1193.2" y="1363.6" width="5.8" height="5.8" fill="#0c66b0"/>
<rect x="1205.05" y="1363.6" width="5.8" height="5.8" fill="#0c66b0"/>
<rect x="1215.8" y="1351.8" width="67.6" height="18.4" fill="none" stroke="#000" stroke-width="2.8"/>
<line x1="1215.7" y1="1370" x2="1280.3" y2="1353.6" stroke="#000" stroke-width="2.8"/>
</svg></body></html>
